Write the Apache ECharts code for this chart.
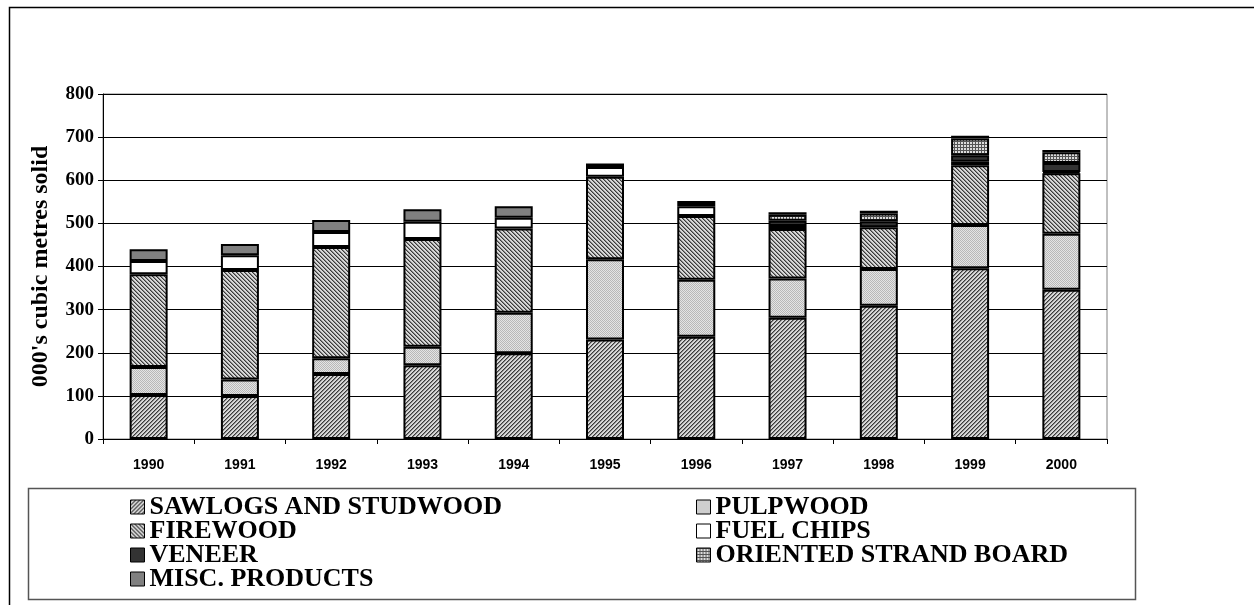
<!DOCTYPE html>
<html>
<head>
<meta charset="utf-8">
<script src="https://cdn.jsdelivr.net/npm/echarts@6/dist/echarts.min.js"></script>
<style>
  html, body { margin: 0; padding: 0; background: #fff; }
  #chart { width: 1254px; height: 605px; }
</style>
</head>
<body>
<div id="chart"></div>
<script>
// Years on the category axis
const years = ['1990', '1991', '1992', '1993', '1994', '1995', '1996', '1997', '1998', '1999', '2000'];

// Volumes by product, in thousands of cubic metres solid
const sawlogs   = [102, 100, 151, 171, 199, 231, 237, 281, 309, 396, 346];
const pulpwood  = [65, 38, 36, 43, 94, 186, 132, 91, 85, 100, 130];
const firewood  = [215, 254, 258, 250, 195, 191, 148, 115, 97, 139, 140];
const fuelChips = [31, 34, 35, 40, 25, 23, 23, 7, 0, 8, 3];
const veneer    = [0, 0, 0, 0, 0, 8, 7, 12, 14, 15, 21];
const osb       = [0, 0, 0, 0, 0, 0, 0, 14, 18, 39, 25];
const misc      = [27, 26, 28, 29, 27, 0, 5, 6, 6, 6, 5];

const yTicks = [0, 100, 200, 300, 400, 500, 600, 700, 800];

// Small repeating fills
function makePattern(size, pick) {
  const c = document.createElement('canvas');
  c.width = size; c.height = size;
  const g = c.getContext('2d');
  for (let y = 0; y < size; y++) {
    for (let x = 0; x < size; x++) {
      g.fillStyle = pick(x, y);
      g.fillRect(x, y, 1, 1);
    }
  }
  return { image: c, repeat: 'repeat' };
}
const upDiag = makePattern(4, (x, y) => ['#3a3a3a', '#8a8a8a', '#d8d8d8', '#d8d8d8'][(x + y) % 4]);
const downDiag = makePattern(4, (x, y) => ['#3a3a3a', '#8a8a8a', '#d8d8d8', '#d8d8d8'][(x - y + 8) % 4]);
const dotted = makePattern(2, (x, y) => ((x + y) % 2 === 0 ? '#b8b8b8' : '#e4e4e4'));
const grid = makePattern(3, (x, y) => ((x % 3 === 0 || y % 3 === 0) ? '#555' : '#dcdcdc'));

const products = [
  { name: 'SAWLOGS AND STUDWOOD', data: sawlogs, fill: upDiag },
  { name: 'PULPWOOD', data: pulpwood, fill: dotted },
  { name: 'FIREWOOD', data: firewood, fill: downDiag },
  { name: 'FUEL CHIPS', data: fuelChips, fill: '#ffffff' },
  { name: 'VENEER', data: veneer, fill: '#333333' },
  { name: 'ORIENTED STRAND BOARD', data: osb, fill: grid },
  { name: 'MISC. PRODUCTS', data: misc, fill: '#808080' }
];

const series = products.map(p => ({
  name: p.name,
  type: 'bar',
  stack: 'total',
  barWidth: 38,
  data: p.data.map(v => (v === 0 ? '-' : v)),
  itemStyle: { color: p.fill, borderColor: '#000', borderWidth: 2 },
  emphasis: { disabled: true }
}));

const serif = '"Liberation Serif", "Times New Roman", serif';
const legendBase = {
  orient: 'vertical',
  icon: 'rect',
  itemWidth: 14,
  itemHeight: 14,
  itemGap: -2,
  padding: 0,
  selectedMode: false,
  textStyle: { fontFamily: serif, fontWeight: 'bold', fontSize: 26, color: '#000' },
  itemStyle: { borderColor: '#000', borderWidth: 1 }
};

const chart = echarts.init(document.getElementById('chart'), null, { renderer: 'canvas' });
chart.setOption({
  animation: false,
  backgroundColor: '#fff',
  grid: {
    left: 103, right: 147, top: 94, bottom: 166,
    show: true, borderColor: '#808080', borderWidth: 1, backgroundColor: 'transparent'
  },
  legend: [
    Object.assign({}, legendBase, {
      left: 130, top: 494,
      data: ['SAWLOGS AND STUDWOOD', 'FIREWOOD', 'VENEER', 'MISC. PRODUCTS']
    }),
    Object.assign({}, legendBase, {
      left: 696, top: 494,
      data: ['PULPWOOD', 'FUEL CHIPS', 'ORIENTED STRAND BOARD']
    })
  ],
  xAxis: {
    type: 'category',
    data: years,
    boundaryGap: true,
    axisLine: { lineStyle: { color: '#000', width: 1 } },
    axisTick: { show: true, length: 5, lineStyle: { color: '#000' } },
    axisLabel: {
      color: '#000', fontFamily: '"Liberation Sans", Arial, sans-serif',
      fontWeight: 'bold', fontSize: 14, margin: 19
    },
    splitLine: { show: false }
  },
  yAxis: {
    type: 'value',
    min: yTicks[0],
    max: yTicks[yTicks.length - 1],
    interval: 100,
    name: "000's cubic metres solid",
    nameLocation: 'middle',
    nameGap: 50,
    nameTextStyle: { color: '#000', fontFamily: serif, fontWeight: 'bold', fontSize: 24 },
    axisLine: { show: true, lineStyle: { color: '#000', width: 1 } },
    axisTick: { show: true, length: 5, lineStyle: { color: '#000' } },
    axisLabel: { color: '#000', fontFamily: serif, fontWeight: 'bold', fontSize: 19, margin: 9 },
    splitLine: { show: true, lineStyle: { color: '#000', width: 1 } }
  },
  graphic: [
    {
      type: 'rect', silent: true, z: -1,
      shape: { x: 9.5, y: 7.5, width: 1260, height: 620 },
      style: { fill: 'none', stroke: '#000', lineWidth: 1.5 }
    },
    {
      type: 'rect', silent: true, z: -1,
      shape: { x: 28.5, y: 488.5, width: 1107, height: 111 },
      style: { fill: 'none', stroke: '#555', lineWidth: 1.5 }
    }
  ],
  series: series
});
</script>
</body>
</html>
